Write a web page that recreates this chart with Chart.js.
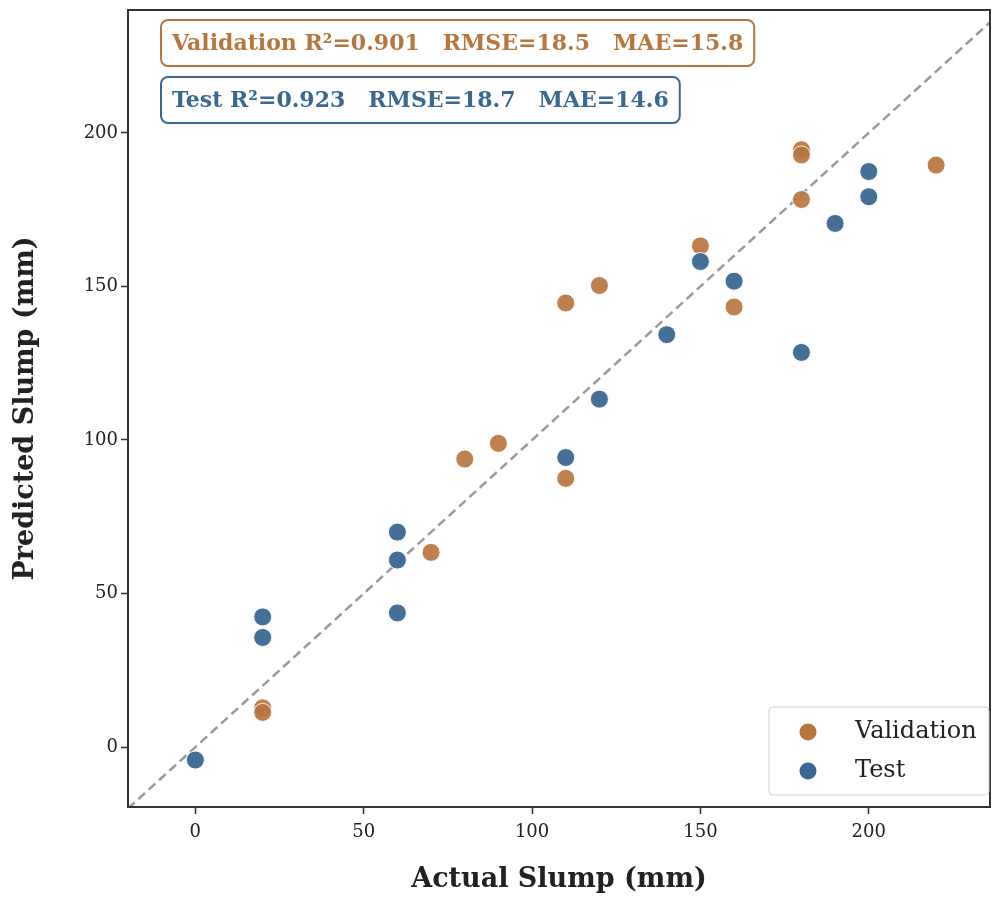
<!DOCTYPE html>
<html>
<head>
<meta charset="utf-8">
<script src="https://cdn.jsdelivr.net/npm/chart.js@4/dist/chart.umd.min.js"></script>
<style>
  html, body { margin: 0; padding: 0; background: #fff; }
  #wrap { width: 1000px; height: 900px; }
</style>
</head>
<body>
<div id="wrap"><canvas id="slumpChart" width="1000" height="900"></canvas></div>
<script>
// data
const valActual = [20, 20, 70, 80, 90, 110, 110, 120, 150, 160, 180, 180, 180, 220];
const valPred   = [12.8, 11.3, 63.4, 93.8, 98.9, 144.6, 87.5, 150.3, 163.2, 143.3, 194.5, 192.8, 178.3, 189.5];
const testActual = [0, 20, 20, 60, 60, 60, 110, 120, 140, 150, 160, 180, 190, 200, 200];
const testPred   = [-4.2, 42.4, 35.7, 70.0, 60.9, 43.7, 94.3, 113.3, 134.3, 158.1, 151.7, 128.5, 170.5, 187.4, 179.2];
const idealLine = [-20, 240];
const xTicks = [0, 50, 100, 150, 200];
const yTicks = [0, 50, 100, 150, 200];
const valMetrics = 'Validation R\u00b2=0.901   RMSE=18.5   MAE=15.8';
const testMetrics = 'Test R\u00b2=0.923   RMSE=18.7   MAE=14.6';

const ORANGE = '#b8763f';
const BLUE = '#3a6891';
const FONT = "'DejaVu Serif', serif";

function toPoints(xs, ys) {
    return xs.map((x, i) => ({ x: x, y: ys[i] }));
}

// no extra padding from the tick labels, the plot box is fixed by the layout padding
function noScalePadding(s) {
    s.paddingTop = 0;
    s.paddingBottom = 0;
    s.paddingLeft = 0;
    s.paddingRight = 0;
}

// frame, metric boxes and legend drawn onto the chart area
const decorPlugin = {
    id: 'decor',
    afterDraw(chart) {
        const ctx = chart.ctx;
        const a = chart.chartArea;
        ctx.save();
        ctx.strokeStyle = '#333';
        ctx.lineWidth = 2;
        ctx.strokeRect(a.left, a.top, a.right - a.left, a.bottom - a.top);

        // metric boxes
        function metricBox(text, color, x, y, h) {
            ctx.font = 'bold 22px ' + FONT;
            const w = ctx.measureText(text).width + 22;
            ctx.beginPath();
            ctx.roundRect(x, y, w, h, 7);
            ctx.fillStyle = 'rgba(255,255,255,0.9)';
            ctx.fill();
            ctx.lineWidth = 2;
            ctx.strokeStyle = color;
            ctx.stroke();
            ctx.fillStyle = color;
            ctx.textBaseline = 'middle';
            ctx.fillText(text, x + 11, y + h / 2 + 1);
        }
        metricBox(valMetrics, ORANGE, a.left + 33, a.top + 10, 46);
        metricBox(testMetrics, BLUE, a.left + 33, a.top + 67, 46);

        // legend
        const lx = a.right - 221, ly = a.bottom - 100, lw = 220, lh = 88;
        ctx.beginPath();
        ctx.roundRect(lx, ly, lw, lh, 4);
        ctx.fillStyle = 'rgba(255,255,255,0.85)';
        ctx.fill();
        ctx.lineWidth = 1;
        ctx.strokeStyle = '#d0d0d0';
        ctx.stroke();
        const items = [['Validation', ORANGE], ['Test', BLUE]];
        ctx.font = '24px ' + FONT;
        ctx.textBaseline = 'middle';
        items.forEach((it, i) => {
            const cy = ly + 25 + i * 39;
            ctx.beginPath();
            ctx.arc(lx + 39, cy, 8.5, 0, Math.PI * 2);
            ctx.fillStyle = it[1];
            ctx.fill();
            ctx.fillStyle = '#222';
            ctx.fillText(it[0], lx + 86, cy);
        });
        ctx.restore();
    }
};

const ctx = document.getElementById('slumpChart').getContext('2d');
const chart = new Chart(ctx, {
    type: 'scatter',
    data: {
        datasets: [
            {
                type: 'line',
                label: 'ideal',
                data: toPoints(idealLine, idealLine),
                borderColor: '#9a9a9a',
                borderWidth: 2.5,
                borderDash: [9, 5],
                pointRadius: 0,
                fill: false,
                order: 3
            },
            {
                label: 'Validation',
                data: toPoints(valActual, valPred),
                backgroundColor: 'rgba(184,118,63,0.92)',
                borderColor: 'rgba(255,255,255,0.9)',
                borderWidth: 1,
                pointRadius: 9,
                order: 2
            },
            {
                label: 'Test',
                data: toPoints(testActual, testPred),
                backgroundColor: 'rgba(58,104,145,0.95)',
                borderColor: 'rgba(255,255,255,0.9)',
                borderWidth: 1,
                pointRadius: 9,
                order: 1
            }
        ]
    },
    options: {
        responsive: false,
        animation: false,
        layout: { padding: { top: 6, right: 4, left: 0, bottom: 0 } },
        plugins: {
            legend: { display: false },
            tooltip: { enabled: false }
        },
        scales: {
            x: {
                type: 'linear',
                min: -20,
                max: 236,
                afterBuildTicks: s => { s.ticks = xTicks.map(v => ({ value: v })); },
                afterFit: s => { s.height = 93; noScalePadding(s); },
                grid: { drawOnChartArea: false, color: '#333', tickLength: 7, tickWidth: 1.5 },
                border: { color: '#333', width: 2 },
                ticks: { color: '#222', font: { family: FONT, size: 18 }, padding: 8 },
                title: {
                    display: true,
                    text: 'Actual Slump (mm)',
                    color: '#222',
                    font: { family: FONT, size: 27, weight: 'bold' },
                    padding: { top: 10 }
                }
            },
            y: {
                type: 'linear',
                min: -19.5,
                max: 240,
                afterBuildTicks: s => { s.ticks = yTicks.map(v => ({ value: v })); },
                afterFit: s => { s.width = 128; noScalePadding(s); },
                grid: { drawOnChartArea: false, color: '#333', tickLength: 7, tickWidth: 1.5 },
                border: { color: '#333', width: 2 },
                ticks: { color: '#222', font: { family: FONT, size: 18 }, padding: 3 },
                title: {
                    display: true,
                    text: 'Predicted Slump (mm)',
                    color: '#222',
                    font: { family: FONT, size: 27, weight: 'bold' },
                    padding: { top: 10, bottom: 10 }
                }
            }
        }
    },
    plugins: [decorPlugin]
});
</script>
</body>
</html>
